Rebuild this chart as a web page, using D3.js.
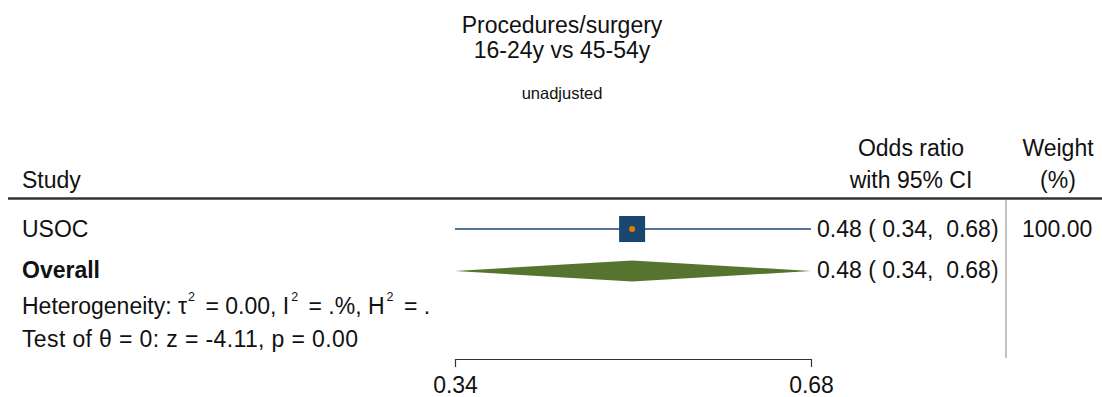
<!DOCTYPE html>
<html><head><meta charset="utf-8">
<script src="https://cdn.jsdelivr.net/npm/d3@7"></script>
<style>body{margin:0;background:#fff}svg{display:block;font-family:"Liberation Sans",Arial,sans-serif}</style>
</head><body><svg id="c" width="1102" height="397"></svg>
<script>
const titleLines = ["Procedures/surgery", "16-24y vs 45-54y"];
const subtitle = "unadjusted";
const studies = ["USOC"];
const estimates = [0.48];
const lowers = [0.34];
const uppers = [0.68];
const weights = ["100.00"];
const overall = {est: 0.48, lo: 0.34, hi: 0.68};
const tickValues = [0.34, 0.68];
const tickLabels = ["0.34", "0.68"];

const svg = d3.select("#c");
const x = d3.scaleLog().domain([0.34, 0.68]).range([455, 811]);
const fmt = d3.format(".2f");
const fs = 23;

svg.selectAll("text.title").data(titleLines).join("text")
  .attr("x", 562).attr("y", (d,i)=>33 + i*25).attr("text-anchor","middle")
  .attr("font-size", 23).attr("fill","#111").text(d=>d);
svg.append("text").attr("x",562).attr("y",99).attr("text-anchor","middle")
  .attr("font-size",16.5).attr("fill","#111").text(subtitle);

// headers
svg.append("text").attr("x",22).attr("y",188).attr("font-size",fs).attr("fill","#111").text("Study");
svg.append("text").attr("x",911).attr("y",156).attr("text-anchor","middle").attr("font-size",fs).attr("fill","#111").text("Odds ratio");
svg.append("text").attr("x",911).attr("y",188).attr("text-anchor","middle").attr("font-size",fs).attr("fill","#111").text("with 95% CI");
svg.append("text").attr("x",1058).attr("y",156).attr("text-anchor","middle").attr("font-size",fs).attr("fill","#111").text("Weight");
svg.append("text").attr("x",1058).attr("y",188).attr("text-anchor","middle").attr("font-size",fs).attr("fill","#111").text("(%)");
svg.append("line").attr("x1",8).attr("x2",1102).attr("y1",198.5).attr("y2",198.5).attr("stroke","#333").attr("stroke-width",2.5);
svg.append("line").attr("x1",1006).attr("x2",1006).attr("y1",200).attr("y2",358).attr("stroke","#999").attr("stroke-width",1.2);

// study rows
const rowY = i => 229 + i*41;
studies.forEach((s,i)=>{
  const y = rowY(i);
  svg.append("text").attr("x",22).attr("y",y+8).attr("font-size",fs).attr("fill","#111").text(s);
  svg.append("line").attr("x1",x(lowers[i])).attr("x2",x(uppers[i])).attr("y1",y).attr("y2",y)
    .attr("stroke","#1a476f").attr("stroke-width",1.6);
  const sz = 26;
  svg.append("rect").attr("x",x(estimates[i])-sz/2).attr("y",y-sz/2).attr("width",sz).attr("height",sz)
    .attr("fill","#1a476f");
  svg.append("circle").attr("cx",x(estimates[i])).attr("cy",y).attr("r",3).attr("fill","#e37e00");
  svg.append("text").attr("x",817).attr("y",y+8).attr("font-size",fs).attr("fill","#111").attr("xml:space","preserve")
    .text(`${fmt(estimates[i])} ( ${fmt(lowers[i])},  ${fmt(uppers[i])})`);
  svg.append("text").attr("x",1022).attr("y",y+8).attr("font-size",fs).attr("fill","#111").text(weights[i]);
});

// overall
const oy = 271;
svg.append("text").attr("x",22).attr("y",oy+7).attr("font-size",fs).attr("font-weight","bold").attr("fill","#111").text("Overall");
svg.append("path").attr("d",`M${x(overall.lo)},${oy} L${x(overall.est)},${oy-10.5} L${x(overall.hi)},${oy} L${x(overall.est)},${oy+10.5} Z`)
  .attr("fill","#55752f");
svg.append("text").attr("x",817).attr("y",oy+7).attr("font-size",fs).attr("fill","#111").attr("xml:space","preserve")
  .text(`${fmt(overall.est)} ( ${fmt(overall.lo)},  ${fmt(overall.hi)})`);

// heterogeneity
const hy = 314;
const h = svg.append("text").attr("x",22).attr("y",hy).attr("font-size",fs).attr("fill","#111").attr("xml:space","preserve");
const segs = [
  {t:"Heterogeneity: τ", sup:false, dx:0},
  {t:"2", sup:true, dx:1},
  {t:" = 0.00, I", sup:false, dx:4},
  {t:"2", sup:true, dx:2},
  {t:" = .%, H", sup:false, dx:4},
  {t:"2", sup:true, dx:2},
  {t:" = .", sup:false, dx:4}
];
segs.forEach(s=>{
  h.append("tspan").attr("dx",s.dx).attr("y", s.sup ? hy-13 : hy)
    .attr("font-size", s.sup ? 12.5 : fs).text(s.t);
});
svg.append("text").attr("x",22).attr("y",347).attr("font-size",fs).attr("fill","#111")
  .attr("textLength",336).attr("lengthAdjust","spacing").text("Test of θ = 0: z = -4.11, p = 0.00");

// axis
const axis = d3.axisBottom(x).tickValues(tickValues).tickFormat((d,i)=>tickLabels[i]).tickSize(8).tickPadding(8).tickSizeOuter(0);
const g = svg.append("g").attr("transform","translate(0,359)").call(axis);
g.select(".domain").attr("stroke","#333").attr("stroke-width",1.2);
g.selectAll(".tick line").attr("stroke","#333").attr("stroke-width",1.2);
g.selectAll(".tick text").attr("y",18).attr("font-size",fs).attr("fill","#111").attr("font-family","Liberation Sans, Arial, sans-serif");
</script></body></html>
